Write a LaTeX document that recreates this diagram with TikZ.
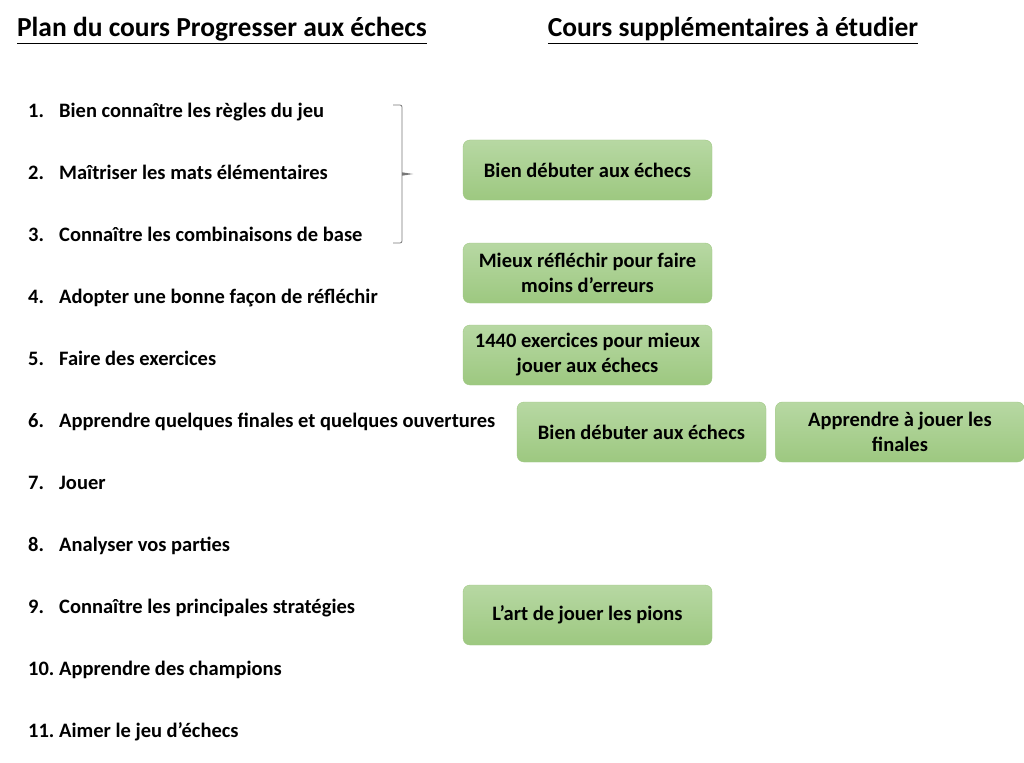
\documentclass[tikz,border=0pt]{standalone}
\usepackage{fontspec}
\setmainfont{Carlito}
\usepackage{tikz}
\usetikzlibrary{positioning}
\definecolor{BoxTop}{RGB}{183,216,163}
\definecolor{BoxBottom}{RGB}{157,200,128}
\definecolor{BoxLine}{RGB}{160,200,132}
\definecolor{BraceColor}{RGB}{120,120,120}
\tikzset{
  coursebox/.style={rounded corners=7pt, draw=BoxLine, top color=BoxTop, bottom color=BoxBottom,
    minimum width=249pt, minimum height=60pt, align=center, font=\fontsize{20.5}{25}\selectfont\bfseries},
  planitem/.style={anchor=base west, inner sep=0pt, font=\fontsize{20.5}{24}\selectfont\bfseries},
  headline/.style={anchor=base, inner sep=0pt, font=\fontsize{27.5}{32}\selectfont\bfseries}
}
\begin{document}
\begin{tikzpicture}[x=1pt, y=-1pt]
  \useasboundingbox[fill=white] (0,0) rectangle (1024,762);
  % titres
  \node[headline] (titleplan) at (222,37) {\underline{Plan du cours Progresser aux échecs}};
  \node[headline] (titlesupp) at (733,37) {\underline{Cours supplémentaires à étudier}};

  % plan du cours
  \foreach \num/\txt [count=\i] in {1./Bien connaître les règles du jeu,
      2./Maîtriser les mats élémentaires,
      3./Connaître les combinaisons de base,
      4./Adopter une bonne façon de réfléchir,
      5./Faire des exercices,
      6./Apprendre quelques finales et quelques ouvertures,
      7./Jouer,
      8./Analyser vos parties,
      9./Connaître les principales stratégies,
      10./Apprendre des champions,
      11./Aimer le jeu d'échecs}{
    \node[planitem] (num\i) at (28,{118+61.9*(\i-1)}) {\num};
    \node[planitem] (item\i) at (59,{118+61.9*(\i-1)}) {\txt};
  }

  % accolade
  \coordinate (bracetop) at (393,105);
  \coordinate (bracebot) at (393,243);
  \coordinate (bracetip) at (413,174);
  \draw[BraceColor, line width=0.8pt, rounded corners=2pt]
    (bracetop) -- ++(9,0) -- (402,243) -- (bracebot);
  \fill[BraceColor] (402,172.3) -- (bracetip) -- (402,175.7) -- cycle;

  % cours supplementaires
  \node[coursebox] (debuter) at (587.5,170) {Bien débuter aux échecs};
  \node[coursebox] (reflechir) at (587.5,273) {Mieux réfléchir pour faire\\moins d’erreurs};
  \node[coursebox] (exercices) at (587.5,355) {1440 exercices pour mieux\\jouer aux échecs};
  \node[coursebox] (debuterbis) at (641.5,432) {Bien débuter aux échecs};
  \node[coursebox, right=9pt of debuterbis] (finales) {Apprendre à jouer les\\finales};
  \node[coursebox] (pions) at (587.5,615) {L’art de jouer les pions};
\end{tikzpicture}
\end{document}
